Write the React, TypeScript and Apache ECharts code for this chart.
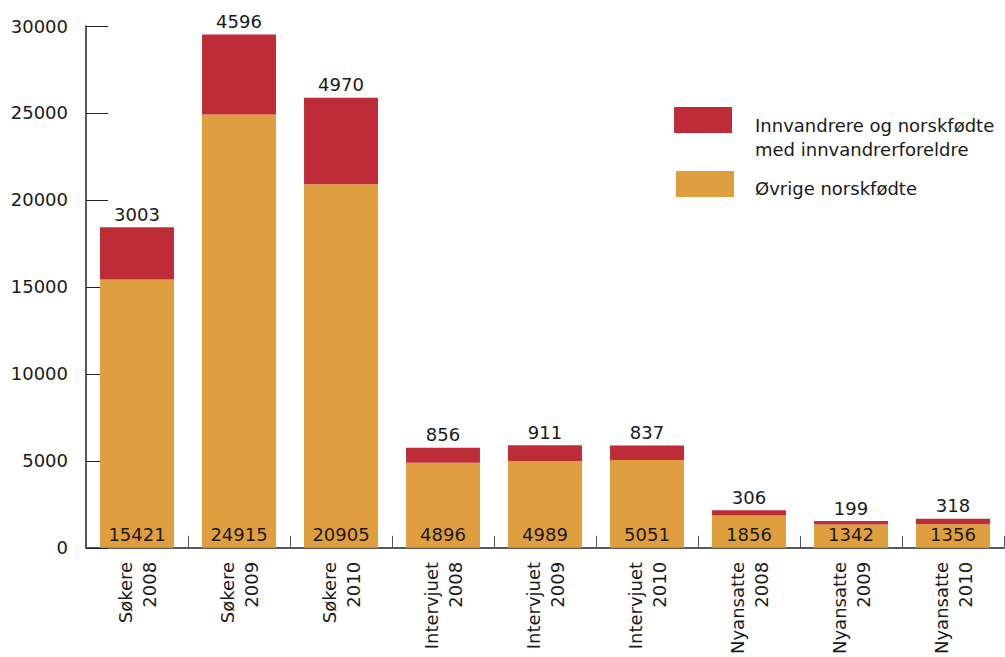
import React, { useEffect, useRef } from "react";
import * as echarts from "echarts";

const categories = [
  "Søkere\n2008", "Søkere\n2009", "Søkere\n2010",
  "Intervjuet\n2008", "Intervjuet\n2009", "Intervjuet\n2010",
  "Nyansatte\n2008", "Nyansatte\n2009", "Nyansatte\n2010",
];
const ovrige = [15421, 24915, 20905, 4896, 4989, 5051, 1856, 1342, 1356];
const innvandrere = [3003, 4596, 4970, 856, 911, 837, 306, 199, 318];
const seriesNames = ["Innvandrere og norskfødte\nmed innvandrerforeldre", "Øvrige norskfødte"];
const yTicks = { min: 0, max: 30000, interval: 5000 };

const FONT = "DejaVu Sans, Verdana, sans-serif";
const TXT = "#1a1a1a";
const RED = "#be2d37";
const ORANGE = "#e09f3e";

export default function App() {
  const ref = useRef<HTMLDivElement>(null);
  useEffect(() => {
    if (!ref.current) return;
    const chart = echarts.init(ref.current, undefined, { renderer: "svg" });
    chart.setOption({
      animation: false,
      textStyle: { fontFamily: FONT },
      grid: { left: 86, right: 1, top: 26, bottom: 104, containLabel: false },
      xAxis: {
        type: "category",
        data: categories,
        axisLine: { lineStyle: { color: "#222", width: 1.5 } },
        axisTick: { show: true, inside: true, length: 12, alignWithLabel: false, lineStyle: { color: "#555" } },
        axisLabel: {
          rotate: 90, margin: 14, fontSize: 18, color: TXT, fontFamily: FONT,
          lineHeight: 24, interval: 0, align: "right", verticalAlign: "middle",
        },
      },
      yAxis: {
        type: "value",
        min: yTicks.min, max: yTicks.max, interval: yTicks.interval,
        axisLine: { show: true, lineStyle: { color: "#222", width: 1.5 } },
        axisTick: { show: true, inside: true, length: 22, lineStyle: { color: "#222" } },
        splitLine: { show: false },
        axisLabel: {
          fontSize: 18, color: TXT, margin: 18, fontFamily: FONT,
          formatter: (v: number) => String(v),
        },
      },
      series: [
        {
          name: seriesNames[1],
          type: "bar",
          stack: "total",
          data: ovrige,
          barWidth: "72.5%",
          itemStyle: { color: ORANGE },
          label: { show: true, position: "insideBottom", distance: 4, fontSize: 18, color: TXT, fontFamily: FONT },
        },
        {
          name: seriesNames[0],
          type: "bar",
          stack: "total",
          data: innvandrere,
          barWidth: "72.5%",
          itemStyle: { color: RED },
          label: { show: true, position: "top", distance: 4, fontSize: 18, color: TXT, fontFamily: FONT },
        },
      ],
      graphic: [
        { type: "rect", left: 674, top: 107, shape: { width: 58, height: 26 }, style: { fill: RED } },
        {
          type: "text", left: 755, top: 113,
          style: { text: seriesNames[0], font: `18px ${FONT}`, fill: TXT, lineHeight: 24 },
        },
        { type: "rect", left: 676, top: 171, shape: { width: 58, height: 26 }, style: { fill: ORANGE } },
        {
          type: "text", left: 755, top: 176,
          style: { text: seriesNames[1], font: `18px ${FONT}`, fill: TXT, lineHeight: 24 },
        },
      ],
    });
    return () => chart.dispose();
  }, []);
  return <div ref={ref} style={{ position: "absolute", left: 0, top: 0, width: 1005, height: 657 }} />;
}
